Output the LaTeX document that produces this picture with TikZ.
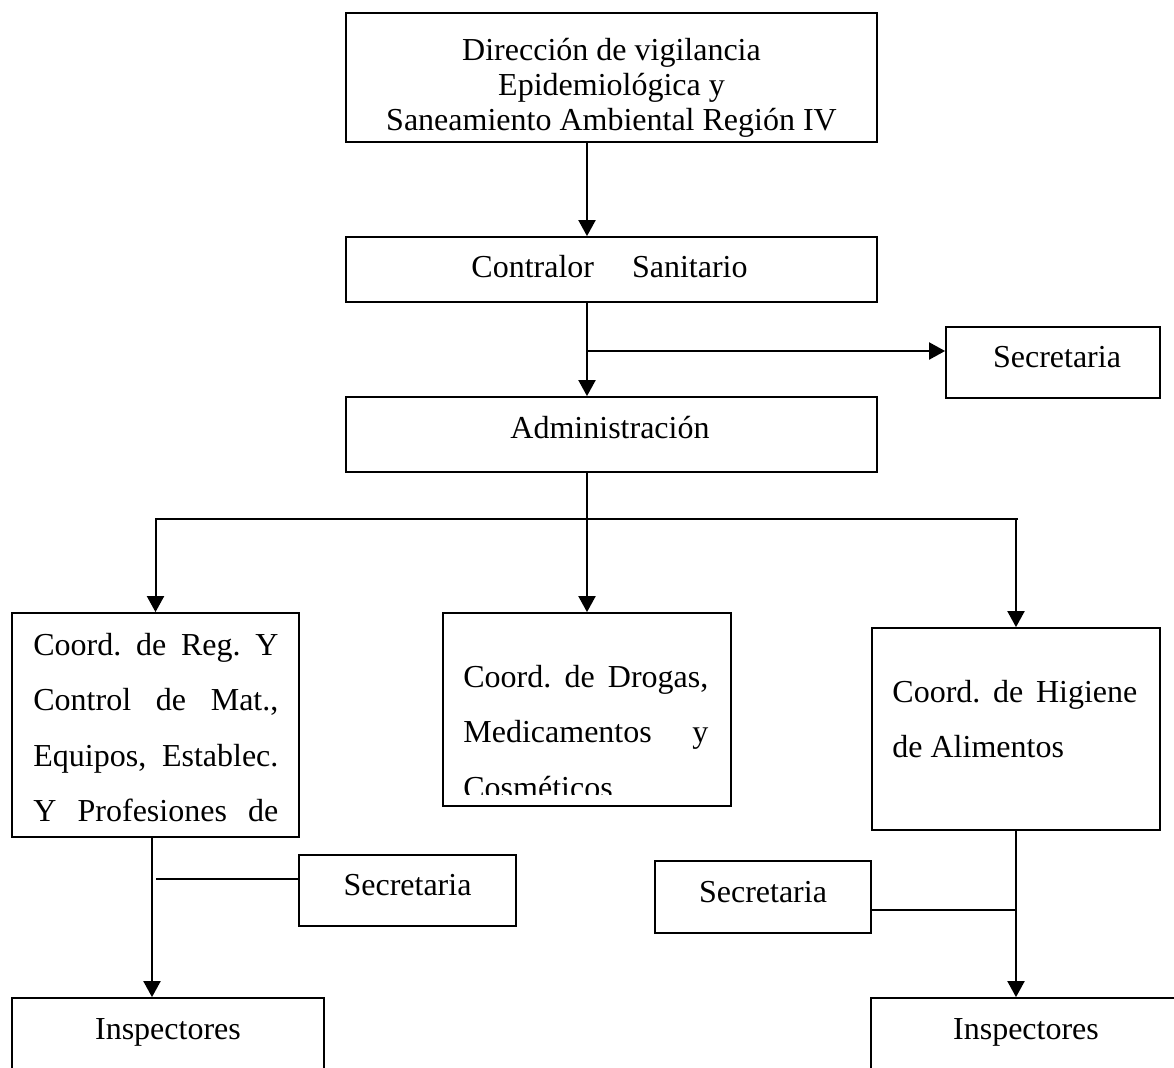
\documentclass[tikz,border=0pt]{standalone}
\usepackage{fontspec}
\setmainfont{Liberation Serif}
\usetikzlibrary{arrows.meta,fit}
\tikzset{
  box/.style={draw, line width=0.9pt, inner sep=0pt},
  conn/.style={line width=1pt},
  arr/.style={conn, -{Triangle[length=8pt,width=8.5pt]}},
  lbl/.style={inner sep=0pt, font=\fontsize{16}{19}\selectfont\frenchspacing, anchor=base},
  lblw/.style={lbl, anchor=base west},
}
\newcommand{\jline}[1]{\makebox[122.5pt][s]{#1}}
\begin{document}
\begin{tikzpicture}[x=0.5pt,y=-0.5pt]
\useasboundingbox (0,0) rectangle (1174,1067);
% boxes
\node[box, fit={(346,13) (877,142)}] (top) {};
\node[box, fit={(346,237) (877,302)}] (contralor) {};
\node[box, fit={(946,327) (1160,398)}] (sec1) {};
\node[box, fit={(346,397) (877,472)}] (admin) {};
\node[box, fit={(12,613) (299,837)}] (left) {};
\node[box, fit={(443,613) (731,806)}] (mid) {};
\node[box, fit={(872,628) (1160,830)}] (right) {};
\node[box, fit={(299,855) (516,926)}] (secL) {};
\node[box, fit={(655,861) (871,933)}] (secR) {};
\node[box, fit={(12,998) (324,1100)}] (insL) {};
\node[box, fit={(871,998) (1190,1100)}] (insR) {};
% connectors
\coordinate (cx) at (587,0);
\draw[arr] (cx |- top.south) -- (cx |- contralor.north);
\draw[arr] (cx |- contralor.south) -- (cx |- admin.north);
\coordinate (j1) at (587,351);
\draw[arr] (j1) -- (j1 -| sec1.west);
\draw[arr] (cx |- admin.south) -- (cx |- mid.north);
\coordinate (h) at (0,519);
\draw[arr] ([xshift=1pt]right.north |- h) -- (left.north |- h) -- (left.north);
\draw[arr] (right.north |- h) -- (right.north);
\coordinate (cl) at (152,0);
\draw[arr] (cl |- left.south) -- (cl |- insL.north);
\coordinate (j2) at (156,879);
\draw[conn] (j2) -- (j2 -| secL.west);
\draw[arr] (right.south) -- (right.south |- insR.north);
\coordinate (j3) at (1016,910);
\draw[conn] (secR.east |- j3) -- (j3);
% texts
\node[lbl] (t1) at (611.5,60) {Dirección de vigilancia};
\node[lbl] (t2) at (611.5,95) {Epidemiológica y};
\node[lbl] (t3) at (611.5,130) {Saneamiento Ambiental Región IV};
\node[lbl] (t4) at (609.5,277) {Contralor\hspace*{19pt}Sanitario};
\node[lbl] (t5) at (1057,367) {Secretaria};
\node[lbl] (t6) at (610,438) {Administración};
\begin{scope}
  \clip (left.north west) rectangle (left.south east);
  \node[lblw] (l1) at (33,655) {\jline{Coord. de Reg. Y}};
  \node[lblw] (l2) at (33,710.5) {\jline{Control de Mat.,}};
  \node[lblw] (l3) at (33,766) {\jline{Equipos, Establec.}};
  \node[lblw] (l4) at (33,821.5) {\jline{Y Profesiones de}};
\end{scope}
\begin{scope}
  \clip (mid.north west) rectangle (mid.east |- 0,794);
  \node[lblw] (m1) at (463,687) {\jline{Coord. de Drogas,}};
  \node[lblw] (m2) at (463,742) {\jline{Medicamentos y}};
  \node[lblw] (m3) at (463,798) {Cosméticos};
\end{scope}
\node[lblw] (r1) at (892,702) {\jline{Coord. de Higiene}};
\node[lblw] (r2) at (892,757) {de Alimentos};
\node[lbl] (t7) at (407.5,895) {Secretaria};
\node[lbl] (t8) at (763,902) {Secretaria};
\node[lbl] (t9) at (168,1039) {Inspectores};
\node[lbl] (t10) at (1026,1039) {Inspectores};
\end{tikzpicture}
\end{document}
